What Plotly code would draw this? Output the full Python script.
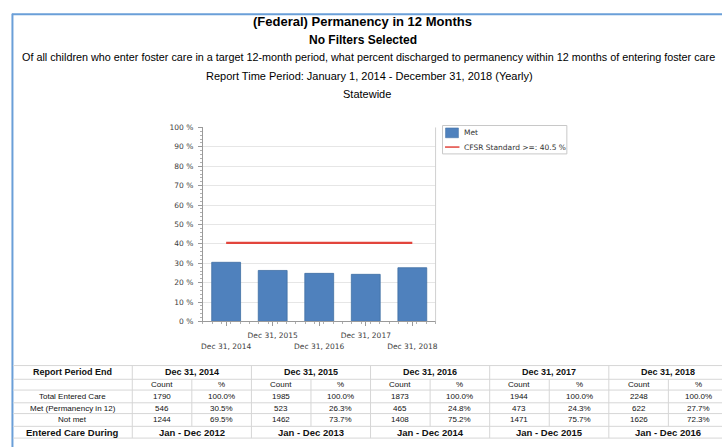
import plotly.graph_objects as go

# ---------------- data ----------------
period_labels = ["Dec 31, 2014", "Dec 31, 2015", "Dec 31, 2016", "Dec 31, 2017", "Dec 31, 2018"]
met_percent = [30.5, 26.3, 24.8, 24.3, 27.7]
cfsr_standard = 40.5
y_tick_values = [0, 10, 20, 30, 40, 50, 60, 70, 80, 90, 100]
y_tick_labels = ["%d %%" % v for v in y_tick_values]

total_count = [1790, 1985, 1873, 1944, 2248]
total_pct = ["100.0%", "100.0%", "100.0%", "100.0%", "100.0%"]
met_count = [546, 523, 465, 473, 622]
met_pct = ["30.5%", "26.3%", "24.8%", "24.3%", "27.7%"]
notmet_count = [1244, 1462, 1408, 1471, 1626]
notmet_pct = ["69.5%", "73.7%", "75.2%", "75.7%", "72.3%"]
entered_during = ["Jan - Dec 2012", "Jan - Dec 2013", "Jan - Dec 2014", "Jan - Dec 2015", "Jan - Dec 2016"]
row_labels = ["Total Entered Care", "Met (Permanency in 12)", "Not met"]

title_lines = [
    "(Federal) Permanency in 12 Months",
    "No Filters Selected",
    "Of all children who enter foster care in a target 12-month period, what percent discharged to permanency within 12 months of entering foster care",
    "Report Time Period: January 1, 2014 - December 31, 2018 (Yearly)",
    "Statewide",
]
legend_names = ["Met", "CFSR Standard >=: %s %%" % cfsr_standard]

# ---------------- layout helpers ----------------
W, H = 722, 447


def px(x):
    return x / W


def py(y):
    return 1 - y / H


ARIAL = "Liberation Sans, Arial, sans-serif"
CHART_FONT = "DejaVu Sans, Tahoma, sans-serif"
BAR_COLOR = "#4F81BD"
LINE_COLOR = "#E2453C"
TICK_FONT = dict(family=CHART_FONT, size=7.5, color="#404040")

n = len(period_labels)
xs = list(range(n))
# staggered labels: odd ones on the upper row (main axis), even ones on the lower row (overlay axis)
upper_text = [lab if i % 2 == 1 else "" for i, lab in enumerate(period_labels)]
lower_text = [lab if i % 2 == 0 else "" for i, lab in enumerate(period_labels)]

fig = go.Figure()
fig.add_trace(go.Bar(
    x=xs, y=met_percent, width=0.62, name=legend_names[0],
    marker=dict(color=BAR_COLOR, line=dict(color="#3F6FA3", width=0.8)),
))
fig.add_trace(go.Scatter(
    x=[xs[0], xs[-1]], y=[cfsr_standard, cfsr_standard], mode="lines",
    name=legend_names[1],
    line=dict(color=LINE_COLOR, width=2.2),
))
# invisible helper trace so the overlay label axis is drawn
fig.add_trace(go.Scatter(x=xs, y=met_percent, xaxis="x2", mode="markers",
                         marker=dict(opacity=0), hoverinfo="skip", showlegend=False))

shapes = []
annotations = []

# outer blue frame (top + left)
shapes.append(dict(type="line", xref="paper", yref="paper", x0=px(10), x1=px(730), y0=py(10.5), y1=py(10.5),
                   line=dict(color="#6A9FD8", width=2)))
shapes.append(dict(type="line", xref="paper", yref="paper", x0=px(10.5), x1=px(10.5), y0=py(10), y1=py(460),
                   line=dict(color="#6A9FD8", width=2)))

# right border of plot area
shapes.append(dict(type="line", xref="paper", yref="paper", x0=px(436), x1=px(436), y0=py(126), y1=py(324),
                   line=dict(color="#D0D0D0", width=1)))

# legend (drawn manually to match the compact original box)
shapes.append(dict(type="rect", xref="paper", yref="paper", x0=px(443), x1=px(568), y0=py(124), y1=py(153),
                   line=dict(color="#C8C8C8", width=1), fillcolor="white"))
shapes.append(dict(type="rect", xref="paper", yref="paper", x0=px(446), x1=px(459), y0=py(126.5), y1=py(136.5),
                   line=dict(color="#3F6FA3", width=0.5), fillcolor=BAR_COLOR))
shapes.append(dict(type="line", xref="paper", yref="paper", x0=px(445.5), x1=px(460), y0=py(146), y1=py(146),
                   line=dict(color=LINE_COLOR, width=1.5)))
for name, yc in zip(legend_names, [131.5, 146]):
    annotations.append(dict(
        text=name, x=px(463), y=py(yc), xref="paper", yref="paper", xanchor="left", yanchor="middle",
        showarrow=False, font=dict(family=CHART_FONT, size=7.5, color="#333333"),
    ))

# titles
title_specs = [
    (363, 17.5, 13, True, "center"),
    (363, 36.5, 12, True, "center"),
    (18, 54.5, 10.8, False, "left"),
    (370, 73.5, 11, False, "center"),
    (367, 91.5, 11, False, "center"),
]
for text, (x, y, size, bold, anchor) in zip(title_lines, title_specs):
    annotations.append(dict(
        text=("<b>%s</b>" % text) if bold else text, x=px(x), y=py(y), xref="paper", yref="paper",
        xanchor=anchor, yanchor="middle", showarrow=False,
        font=dict(family=ARIAL, size=size, color="#000000"),
    ))

# ---------------- table ----------------
LINE = dict(color="#D6D6D6", width=1)
row_y = [369, 383, 394, 407, 418, 431, 443]
first_col_end = 131
group_w = 119.8
groups = [first_col_end + group_w * i for i in range(n)]

for y in row_y:
    shapes.append(dict(type="line", xref="paper", yref="paper", x0=px(11), x1=px(730), y0=py(y), y1=py(y), line=LINE))
for g in [first_col_end] + groups[1:]:
    shapes.append(dict(type="line", xref="paper", yref="paper", x0=px(g), x1=px(g), y0=py(row_y[0]), y1=py(row_y[-1]), line=LINE))
for g in groups:
    shapes.append(dict(type="line", xref="paper", yref="paper", x0=px(g + group_w / 2), x1=px(g + group_w / 2),
                       y0=py(row_y[1]), y1=py(row_y[-2]), line=LINE))


def cell(text, x, y, size=8, bold=False):
    annotations.append(dict(
        text=("<b>%s</b>" % text) if bold else text, x=px(x), y=py(y), xref="paper", yref="paper",
        xanchor="center", yanchor="middle", showarrow=False,
        font=dict(family=ARIAL, size=size, color="#111111"),
    ))


label_cx = (11 + first_col_end) / 2
cell("Report Period End", label_cx, 376, 9, True)
cell("Entered Care During", label_cx, 437.5, 9.5, True)
row_centers = [401, 412.7, 424.3]
for lab, yc in zip(row_labels, row_centers):
    cell(lab, label_cx, yc, 8)

rows = [(total_count, total_pct), (met_count, met_pct), (notmet_count, notmet_pct)]
for i, g in enumerate(groups):
    cc = g + group_w * 0.25
    pc = g + group_w * 0.75
    cell(period_labels[i], g + group_w / 2, 376, 9, True)
    cell("Count", cc, 388.5, 8)
    cell("%", pc, 388.5, 8)
    for (cnt, pct), yc in zip(rows, row_centers):
        cell(str(cnt[i]), cc, yc, 8)
        cell(pct[i], pc, yc, 8)
    cell(entered_during[i], g + group_w / 2, 437.5, 9.5, True)

fig.update_layout(
    width=W, height=H, autosize=False,
    margin=dict(l=0, r=0, t=0, b=0),
    paper_bgcolor="white", plot_bgcolor="white",
    showlegend=False,
    xaxis=dict(
        domain=[px(202), px(436)], range=[-0.5, n - 0.5],
        tickmode="array", tickvals=xs, ticktext=upper_text, tickangle=0,
        ticks="outside", ticklen=4, tickcolor="#9A9A9A", ticklabelstandoff=3,
        minor=dict(ticks="outside", ticklen=2, dtick=0.2, tick0=-0.5, tickcolor="#B0B0B0"),
        showline=True, linecolor="#9A9A9A", linewidth=1, showgrid=False, zeroline=False,
        tickfont=TICK_FONT, fixedrange=True,
    ),
    xaxis2=dict(
        overlaying="x", matches="x", anchor="y", side="bottom",
        tickmode="array", tickvals=xs, ticktext=lower_text, tickangle=0,
        ticks="", showline=False, showgrid=False, zeroline=False, ticklabelstandoff=19,
        tickfont=TICK_FONT, fixedrange=True,
    ),
    yaxis=dict(
        domain=[py(324), py(126)], range=[0, 100],
        tickmode="array", tickvals=y_tick_values, ticktext=y_tick_labels,
        ticks="outside", ticklen=4, tickcolor="#9A9A9A", ticklabelstandoff=3,
        minor=dict(ticks="outside", ticklen=2, dtick=2, tickcolor="#B0B0B0", showgrid=False),
        showline=True, linecolor="#9A9A9A", linewidth=1,
        showgrid=True, gridcolor="#E6E6E6", zeroline=False,
        tickfont=TICK_FONT, fixedrange=True,
    ),
    shapes=shapes, annotations=annotations,
)

fig.write_html("out.html", config={"displayModeBar": False},
               post_script="document.body.style.margin='0';document.body.style.overflow='hidden';")
